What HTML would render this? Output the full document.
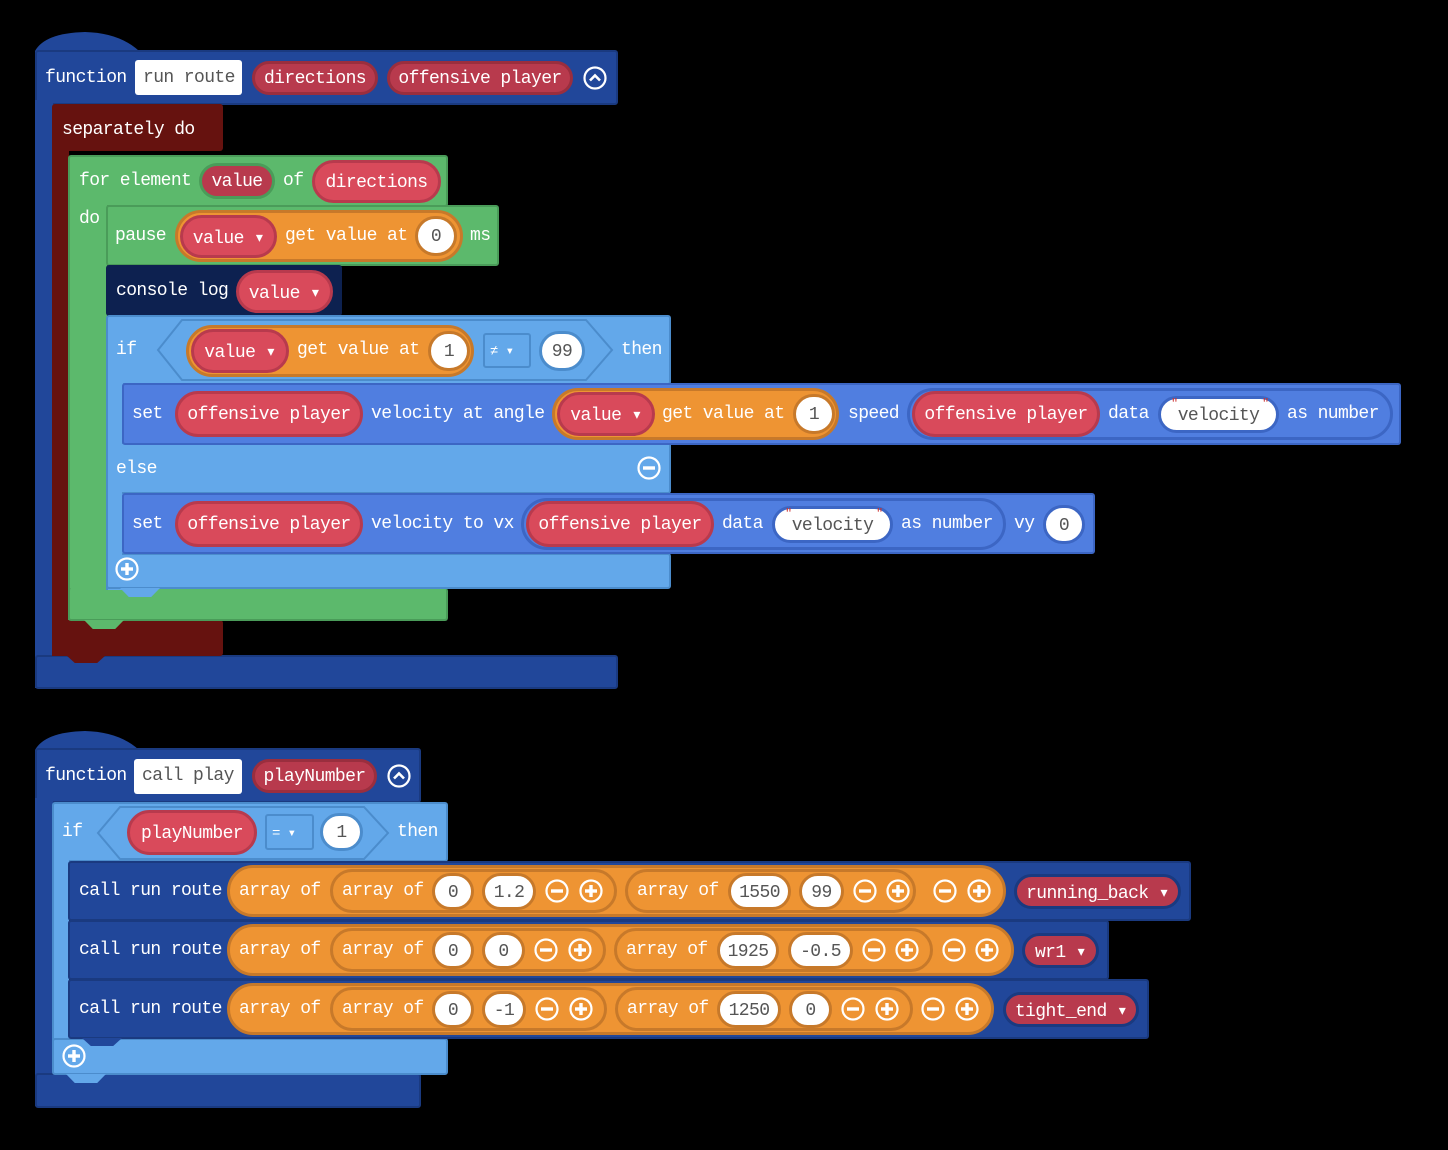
<!DOCTYPE html>
<html><head><meta charset="utf-8">
<style>
body{margin:0;background:#000;width:1448px;height:1150px;overflow:hidden;position:relative;font-family:"Liberation Mono",monospace}
.a{position:absolute;box-sizing:border-box}
.t{position:absolute;font-size:18px;letter-spacing:-0.6px;line-height:24px;color:#fff;white-space:nowrap}
.p{position:absolute;box-sizing:border-box;border-radius:999px;display:flex;align-items:center;justify-content:center;font-size:18px;letter-spacing:-0.6px;color:#fff;white-space:nowrap;padding-top:2px}
.fn{background:#21479a;border:2px solid #1a3a80;border-radius:3px}
.dr{background:#66120f;border-radius:3px}
.gr{background:#5cb96c;border:2px solid #4a9c59;border-radius:3px}
.nv{background:#0d2150;border-radius:3px}
.lb{background:#63a8ea;border:2px solid #4b8ccc;border-radius:3px}
.sb{background:#507ee0;border:2px solid #3c66c4;border-radius:3px}
.rd{background:#d94a5b;border:3px solid #b83a4d}
.rp{background:#b83a4d;border:3px solid #9a2e3e}
.or{background:#ee9433;border:3px solid #c7792a}
.wc{background:#fff;color:#555;border:3px solid #c7792a}
.wb{background:#fff;color:#555;border:3px solid #3c66c4}
.tab{position:absolute;clip-path:polygon(0 0,100% 0,78% 100%,22% 100%)}
.ic{position:absolute;width:24px;height:24px}
</style></head><body>
<svg width="0" height="0" style="position:absolute">
<defs>
<symbol id="mi" viewBox="0 0 24 24"><circle cx="12" cy="12" r="10.5" fill="none" stroke="#fff" stroke-width="2.2"/><rect x="6" y="10.3" width="12" height="3.4" fill="#fff"/></symbol>
<symbol id="pl" viewBox="0 0 24 24"><circle cx="12" cy="12" r="10.5" fill="none" stroke="#fff" stroke-width="2.2"/><rect x="6" y="10.3" width="12" height="3.4" fill="#fff"/><rect x="10.3" y="6" width="3.4" height="12" fill="#fff"/></symbol>
<symbol id="up" viewBox="0 0 24 24"><circle cx="12" cy="12" r="10.5" fill="none" stroke="#fff" stroke-width="2.2"/><path d="M7 14.5 L12 9.5 L17 14.5" fill="none" stroke="#fff" stroke-width="2.6"/></symbol>
</defs></svg>

<!-- ===== FUNCTION 1 ===== -->
<svg class="a" style="left:35px;top:31px" width="110" height="24"><path d="M0 24 L0 20 Q10 2 50 1 Q88 2 108 24 Z" fill="#21479a"/></svg>
<div class="a fn" style="left:35px;top:50px;width:583px;height:55px"></div>
<div class="a" style="left:35px;top:100px;width:18px;height:588px;background:#21479a"></div>
<div class="a fn" style="left:35px;top:655px;width:583px;height:34px"></div>
<div class="t" style="left:45px;top:66px">function</div>
<div class="a" style="left:135px;top:60px;width:107px;height:35px;background:#fff;border-radius:3px"></div>
<div class="t" style="left:143px;top:66px;color:#555">run route</div>
<div class="p rp" style="left:252px;top:61px;width:126px;height:34px">directions</div>
<div class="p rp" style="left:387px;top:61px;width:186px;height:34px">offensive player</div>
<svg class="ic" style="left:583px;top:66px"><use href="#up"/></svg>

<!-- separately -->
<div class="a dr" style="left:52px;top:104px;width:171px;height:47px"></div>
<div class="a" style="left:52px;top:140px;width:17px;height:516px;background:#66120f"></div>
<div class="a dr" style="left:52px;top:620px;width:171px;height:36px"></div>
<div class="tab" style="left:66px;top:655px;width:40px;height:8px;background:#66120f"></div>
<div class="t" style="left:62px;top:118px">separately do</div>

<!-- for element -->
<div class="a gr" style="left:68px;top:155px;width:380px;height:52px"></div>
<div class="a" style="left:68px;top:200px;width:39px;height:420px;background:#5cb96c;border-left:2px solid #4a9c59"></div>
<div class="a gr" style="left:68px;top:588px;width:380px;height:33px;border-top:none"></div>
<div class="tab" style="left:84px;top:620px;width:40px;height:9px;background:#5cb96c"></div>
<div class="t" style="left:79px;top:169px">for element</div>
<div class="p rp" style="left:199px;top:163px;width:76px;height:36px;border-color:#4a9c59">value</div>
<div class="t" style="left:283px;top:169px">of</div>
<div class="p rd" style="left:312px;top:160px;width:129px;height:43px">directions</div>
<div class="t" style="left:79px;top:207px">do</div>

<!-- pause -->
<div class="a gr" style="left:106px;top:205px;width:393px;height:61px"></div>
<div class="t" style="left:115px;top:224px">pause</div>
<div class="p or" style="left:175px;top:210px;width:288px;height:52px"></div>
<div class="p rd" style="left:180px;top:215px;width:97px;height:43px">value ▾</div>
<div class="t" style="left:285px;top:224px">get value at</div>
<div class="p wc" style="left:415px;top:216px;width:42px;height:40px">0</div>
<div class="t" style="left:470px;top:224px">ms</div>

<!-- console log -->
<div class="a nv" style="left:106px;top:265px;width:236px;height:51px"></div>
<div class="t" style="left:116px;top:279px">console log</div>
<div class="p rd" style="left:236px;top:270px;width:97px;height:43px">value ▾</div>

<!-- if block -->
<div class="a lb" style="left:106px;top:315px;width:565px;height:70px"></div>
<div class="a" style="left:106px;top:380px;width:17px;height:210px;background:#63a8ea;border-left:2px solid #4b8ccc"></div>
<div class="a lb" style="left:106px;top:442px;width:565px;height:52px"></div>
<div class="a lb" style="left:106px;top:553px;width:565px;height:36px"></div>
<div class="a" style="left:108px;top:440px;width:14px;height:8px;background:#63a8ea"></div>
<div class="a" style="left:108px;top:490px;width:14px;height:8px;background:#63a8ea"></div>
<div class="a" style="left:108px;top:549px;width:14px;height:8px;background:#63a8ea"></div>
<div class="tab" style="left:120px;top:588px;width:40px;height:9px;background:#63a8ea"></div>
<div class="t" style="left:116px;top:338px">if</div>
<svg class="a" style="left:156px;top:318px" width="460" height="64"><polygon points="26,2 430,2 456,32 430,62 26,62 2,32" fill="#63a8ea" stroke="#4b8ccc" stroke-width="2"/></svg>
<div class="p or" style="left:186px;top:325px;width:288px;height:52px"></div>
<div class="p rd" style="left:191px;top:329px;width:98px;height:44px">value ▾</div>
<div class="t" style="left:297px;top:338px">get value at</div>
<div class="p wc" style="left:428px;top:331px;width:42px;height:40px">1</div>
<div class="a" style="left:483px;top:333px;width:48px;height:35px;border:2px solid #4b8ccc;border-radius:3px;background:#63a8ea"></div>
<div class="t" style="left:490px;top:340px;font-size:14px">≠ ▾</div>
<div class="p wb" style="left:539px;top:331px;width:46px;height:40px;border-color:#4b8ccc">99</div>
<div class="t" style="left:621px;top:338px">then</div>
<div class="t" style="left:116px;top:457px">else</div>
<svg class="ic" style="left:637px;top:456px"><use href="#mi"/></svg>
<svg class="ic" style="left:115px;top:557px"><use href="#pl"/></svg>

<!-- set 1 -->
<div class="a sb" style="left:122px;top:383px;width:1279px;height:62px"></div>
<div class="t" style="left:132px;top:402px">set</div>
<div class="p rd" style="left:175px;top:391px;width:188px;height:46px">offensive player</div>
<div class="t" style="left:371px;top:402px">velocity at angle</div>
<div class="p or" style="left:552px;top:388px;width:287px;height:52px"></div>
<div class="p rd" style="left:557px;top:392px;width:98px;height:44px">value ▾</div>
<div class="t" style="left:662px;top:402px">get value at</div>
<div class="p wc" style="left:793px;top:394px;width:42px;height:40px">1</div>
<div class="t" style="left:848px;top:402px">speed</div>
<div class="p" style="left:907px;top:388px;width:486px;height:52px;border:3px solid #3c66c4;background:#507ee0"></div>
<div class="p rd" style="left:912px;top:391px;width:188px;height:46px">offensive player</div>
<div class="t" style="left:1108px;top:402px">data</div>
<div class="p wb" style="left:1158px;top:396px;width:121px;height:37px">velocity</div>
<div class="t" style="left:1171px;top:392px;color:#c33;font-size:12px">"</div>
<div class="t" style="left:1262px;top:392px;color:#c33;font-size:12px">"</div>
<div class="t" style="left:1287px;top:402px">as number</div>

<!-- set 2 -->
<div class="a sb" style="left:122px;top:493px;width:973px;height:61px"></div>
<div class="t" style="left:132px;top:512px">set</div>
<div class="p rd" style="left:175px;top:501px;width:188px;height:46px">offensive player</div>
<div class="t" style="left:371px;top:512px">velocity to vx</div>
<div class="p" style="left:521px;top:498px;width:485px;height:52px;border:3px solid #3c66c4;background:#507ee0"></div>
<div class="p rd" style="left:526px;top:501px;width:188px;height:46px">offensive player</div>
<div class="t" style="left:722px;top:512px">data</div>
<div class="p wb" style="left:772px;top:506px;width:121px;height:37px">velocity</div>
<div class="t" style="left:785px;top:502px;color:#c33;font-size:12px">"</div>
<div class="t" style="left:876px;top:502px;color:#c33;font-size:12px">"</div>
<div class="t" style="left:901px;top:512px">as number</div>
<div class="t" style="left:1014px;top:512px">vy</div>
<div class="p wb" style="left:1043px;top:505px;width:42px;height:39px">0</div>

<!-- ===== FUNCTION 2 ===== -->
<svg class="a" style="left:35px;top:730px" width="110" height="24"><path d="M0 24 L0 20 Q10 2 50 1 Q88 2 108 24 Z" fill="#21479a"/></svg>
<div class="a fn" style="left:35px;top:748px;width:386px;height:55px"></div>
<div class="a" style="left:35px;top:798px;width:18px;height:308px;background:#21479a"></div>
<div class="a fn" style="left:35px;top:1073px;width:386px;height:35px"></div>
<div class="t" style="left:45px;top:764px">function</div>
<div class="a" style="left:134px;top:759px;width:108px;height:35px;background:#fff;border-radius:3px"></div>
<div class="t" style="left:142px;top:764px;color:#555">call play</div>
<div class="p rp" style="left:252px;top:759px;width:125px;height:34px">playNumber</div>
<svg class="ic" style="left:387px;top:764px"><use href="#up"/></svg>

<!-- if 2 -->
<div class="a lb" style="left:52px;top:802px;width:396px;height:60px"></div>
<div class="a" style="left:52px;top:858px;width:17px;height:184px;background:#63a8ea;border-left:2px solid #4b8ccc"></div>
<div class="a lb" style="left:52px;top:1038px;width:396px;height:37px"></div>
<div class="tab" style="left:66px;top:1074px;width:40px;height:9px;background:#63a8ea"></div>
<div class="t" style="left:62px;top:820px">if</div>
<svg class="a" style="left:96px;top:805px" width="296" height="56"><polygon points="24,2 268,2 292,28 268,54 24,54 2,28" fill="#63a8ea" stroke="#4b8ccc" stroke-width="2"/></svg>
<div class="p rd" style="left:127px;top:810px;width:130px;height:45px">playNumber</div>
<div class="a" style="left:265px;top:814px;width:49px;height:36px;border:2px solid #4b8ccc;border-radius:3px;background:#63a8ea"></div>
<div class="t" style="left:272px;top:822px;font-size:14px">= ▾</div>
<div class="p wb" style="left:320px;top:813px;width:43px;height:38px;border-color:#4b8ccc">1</div>
<div class="t" style="left:397px;top:820px">then</div>
<svg class="ic" style="left:62px;top:1044px"><use href="#pl"/></svg>

<!-- call rows -->
<div class="a fn" style="left:68px;top:861px;width:1123px;height:60px"></div>
<div class="a fn" style="left:68px;top:920px;width:1041px;height:60px"></div>
<div class="a fn" style="left:68px;top:979px;width:1081px;height:60px"></div>
<div class="tab" style="left:82px;top:1038px;width:40px;height:8px;background:#21479a"></div>

<!-- row1 -->
<div class="t" style="left:79px;top:879px">call run route</div>
<div class="p or" style="left:227px;top:865px;width:779px;height:52px"></div>
<div class="t" style="left:239px;top:879px">array of</div>
<div class="p or" style="left:330px;top:869px;width:287px;height:44px"></div>
<div class="t" style="left:342px;top:879px">array of</div>
<div class="p wc" style="left:432px;top:873px;width:42px;height:37px">0</div>
<div class="p wc" style="left:482px;top:873px;width:54px;height:37px">1.2</div>
<svg class="ic" style="left:545px;top:879px"><use href="#mi"/></svg>
<svg class="ic" style="left:579px;top:879px"><use href="#pl"/></svg>
<div class="p or" style="left:625px;top:869px;width:291px;height:44px"></div>
<div class="t" style="left:637px;top:879px">array of</div>
<div class="p wc" style="left:728px;top:873px;width:63px;height:37px">1550</div>
<div class="p wc" style="left:799px;top:873px;width:45px;height:37px">99</div>
<svg class="ic" style="left:853px;top:879px"><use href="#mi"/></svg>
<svg class="ic" style="left:886px;top:879px"><use href="#pl"/></svg>
<svg class="ic" style="left:933px;top:879px"><use href="#mi"/></svg>
<svg class="ic" style="left:967px;top:879px"><use href="#pl"/></svg>
<div class="p rp" style="left:1014px;top:874px;width:167px;height:35px;border-color:#1a3a80">running_back ▾</div>

<!-- row2 -->
<div class="t" style="left:79px;top:938px">call run route</div>
<div class="p or" style="left:227px;top:924px;width:787px;height:52px"></div>
<div class="t" style="left:239px;top:938px">array of</div>
<div class="p or" style="left:330px;top:928px;width:276px;height:44px"></div>
<div class="t" style="left:342px;top:938px">array of</div>
<div class="p wc" style="left:432px;top:932px;width:42px;height:37px">0</div>
<div class="p wc" style="left:482px;top:932px;width:43px;height:37px">0</div>
<svg class="ic" style="left:534px;top:938px"><use href="#mi"/></svg>
<svg class="ic" style="left:568px;top:938px"><use href="#pl"/></svg>
<div class="p or" style="left:614px;top:928px;width:319px;height:44px"></div>
<div class="t" style="left:626px;top:938px">array of</div>
<div class="p wc" style="left:717px;top:932px;width:62px;height:37px">1925</div>
<div class="p wc" style="left:788px;top:932px;width:65px;height:37px">-0.5</div>
<svg class="ic" style="left:862px;top:938px"><use href="#mi"/></svg>
<svg class="ic" style="left:895px;top:938px"><use href="#pl"/></svg>
<svg class="ic" style="left:942px;top:938px"><use href="#mi"/></svg>
<svg class="ic" style="left:975px;top:938px"><use href="#pl"/></svg>
<div class="p rp" style="left:1022px;top:933px;width:77px;height:35px;border-color:#1a3a80">wr1 ▾</div>

<!-- row3 -->
<div class="t" style="left:79px;top:997px">call run route</div>
<div class="p or" style="left:227px;top:983px;width:767px;height:52px"></div>
<div class="t" style="left:239px;top:997px">array of</div>
<div class="p or" style="left:330px;top:987px;width:277px;height:44px"></div>
<div class="t" style="left:342px;top:997px">array of</div>
<div class="p wc" style="left:432px;top:991px;width:42px;height:37px">0</div>
<div class="p wc" style="left:482px;top:991px;width:44px;height:37px">-1</div>
<svg class="ic" style="left:535px;top:997px"><use href="#mi"/></svg>
<svg class="ic" style="left:569px;top:997px"><use href="#pl"/></svg>
<div class="p or" style="left:615px;top:987px;width:298px;height:44px"></div>
<div class="t" style="left:627px;top:997px">array of</div>
<div class="p wc" style="left:717px;top:991px;width:64px;height:37px">1250</div>
<div class="p wc" style="left:789px;top:991px;width:43px;height:37px">0</div>
<svg class="ic" style="left:841px;top:997px"><use href="#mi"/></svg>
<svg class="ic" style="left:875px;top:997px"><use href="#pl"/></svg>
<svg class="ic" style="left:921px;top:997px"><use href="#mi"/></svg>
<svg class="ic" style="left:955px;top:997px"><use href="#pl"/></svg>
<div class="p rp" style="left:1003px;top:992px;width:136px;height:35px;border-color:#1a3a80">tight_end ▾</div>

</body></html>
